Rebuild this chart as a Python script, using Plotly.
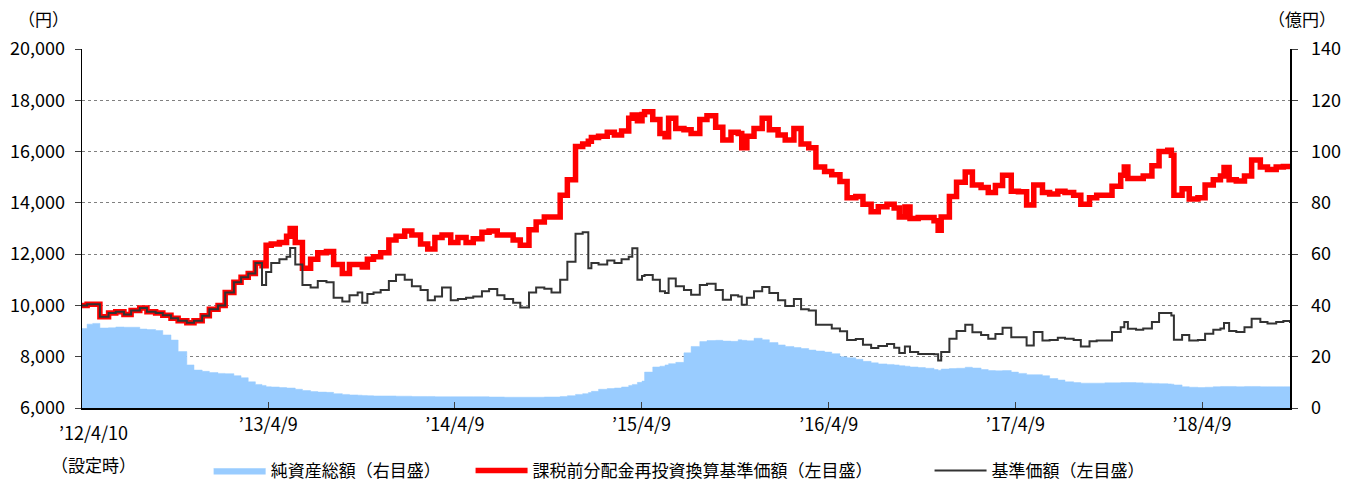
import plotly.graph_objects as go

dates = [
    "2012-04-10", "2012-04-20", "2012-05-01", "2012-05-15", "2012-06-01", "2012-06-15",
    "2012-07-01", "2012-07-15", "2012-08-01", "2012-08-15", "2012-09-01", "2012-09-15",
    "2012-10-01", "2012-10-15", "2012-11-01", "2012-11-15", "2012-12-01", "2012-12-15",
    "2013-01-01", "2013-01-15", "2013-02-01", "2013-02-15", "2013-03-01", "2013-03-15",
    "2013-03-28", "2013-04-05", "2013-04-15", "2013-05-01", "2013-05-15", "2013-05-22",
    "2013-06-01", "2013-06-15", "2013-07-01", "2013-07-15", "2013-08-01", "2013-08-15",
    "2013-09-01", "2013-09-15", "2013-10-01", "2013-10-10", "2013-10-20", "2013-11-01",
    "2013-11-15", "2013-12-01", "2013-12-15", "2014-01-01", "2014-01-15", "2014-02-01",
    "2014-02-15", "2014-03-01", "2014-03-15", "2014-04-01", "2014-04-15", "2014-05-01",
    "2014-05-15", "2014-06-01", "2014-06-15", "2014-07-01", "2014-07-15", "2014-08-01",
    "2014-08-15", "2014-09-01", "2014-09-15", "2014-10-01", "2014-10-15", "2014-11-01",
    "2014-11-15", "2014-12-01", "2014-12-15", "2014-12-26", "2015-01-01", "2015-01-15",
    "2015-02-01", "2015-02-15", "2015-03-01", "2015-03-15", "2015-03-22", "2015-04-01",
    "2015-04-10", "2015-04-15", "2015-05-01", "2015-05-15", "2015-05-25", "2015-06-01",
    "2015-06-15", "2015-07-01", "2015-07-15", "2015-08-01", "2015-08-15", "2015-09-01",
    "2015-09-15", "2015-10-01", "2015-10-15", "2015-10-22", "2015-11-01", "2015-11-15",
    "2015-12-01", "2015-12-15", "2016-01-01", "2016-01-15", "2016-02-01", "2016-02-15",
    "2016-03-01", "2016-03-15", "2016-04-01", "2016-04-15", "2016-05-01", "2016-05-15",
    "2016-06-01", "2016-06-15", "2016-07-01", "2016-07-15", "2016-08-01", "2016-08-15",
    "2016-08-25", "2016-09-05", "2016-09-15", "2016-10-01", "2016-10-15", "2016-11-01",
    "2016-11-09", "2016-11-15", "2016-12-01", "2016-12-15", "2017-01-01", "2017-01-15",
    "2017-02-01", "2017-02-15", "2017-03-01", "2017-03-15", "2017-04-01", "2017-04-15",
    "2017-05-01", "2017-05-15", "2017-06-01", "2017-06-15", "2017-07-01", "2017-07-15",
    "2017-08-01", "2017-08-15", "2017-09-01", "2017-09-15", "2017-10-01", "2017-10-15",
    "2017-11-01", "2017-11-08", "2017-11-15", "2017-12-01", "2017-12-15", "2018-01-01",
    "2018-01-15", "2018-02-01", "2018-02-08", "2018-02-13", "2018-03-01", "2018-03-15",
    "2018-04-01", "2018-04-15", "2018-05-01", "2018-05-15", "2018-05-22", "2018-06-01",
    "2018-06-15", "2018-07-01", "2018-07-15", "2018-08-01", "2018-08-15", "2018-09-01",
    "2018-09-15", "2018-09-28",
]

# 課税前分配金再投資換算基準価額 (円, left axis)
reinvested_nav = [
    10000, 10050, 10050, 9560, 9700, 9750,
    9650, 9800, 9900, 9750, 9700, 9620,
    9500, 9400, 9320, 9400, 9600, 9850,
    10000, 10500, 10900, 11100, 11250, 11650,
    11550, 12350, 12400, 12450, 12700, 13000,
    12450, 11450, 11800, 12050, 12100, 11600,
    11250, 11600, 11600, 11500, 11800, 11900,
    12050, 12550, 12700, 12900, 12750, 12400,
    12200, 12650, 12750, 12450, 12650, 12450,
    12600, 12850, 12900, 12750, 12750, 12550,
    12350, 12950, 13250, 13450, 13450, 14300,
    14900, 16200, 16300, 16400, 16550, 16600,
    16750, 16650, 16800, 17300, 17430, 17200,
    17450, 17550, 17250, 16700, 16580, 17300,
    16900, 16850, 16700, 17250, 17400, 16950,
    16450, 16750, 16700, 16150, 16600, 16900,
    17300, 16850, 16650, 16450, 16900, 16300,
    16150, 15400, 15220, 15100, 14830, 14200,
    14250, 13950, 13650, 13850, 13950, 13800,
    13450, 13840, 13390, 13430, 13430, 13300,
    12930, 13450, 14250, 14800, 15200, 14700,
    14600, 14400, 14680, 15080, 14450, 14430,
    13920, 14700, 14400, 14350, 14450, 14400,
    14300, 13950, 14200, 14300, 14300, 14650,
    15080, 15400, 14950, 14950, 15050, 15450,
    16000, 16050, 15860, 14300, 14550, 14150,
    14200, 14700, 14900, 15050, 15380, 14900,
    14850, 15050, 15670, 15400, 15300, 15400,
    15420, 15340,
]

# 基準価額 (円, left axis)
nav = [
    10000, 10050, 10050, 9560, 9700, 9750,
    9650, 9800, 9900, 9750, 9700, 9620,
    9500, 9400, 9320, 9400, 9600, 9850,
    10000, 10500, 10900, 11100, 11250, 11650,
    10800, 11300, 11650, 11800, 11900, 12240,
    11600, 10800, 10700, 10950, 10900, 10300,
    10150, 10400, 10500, 10100, 10450, 10500,
    10600, 10950, 11200, 11000, 10750, 10600,
    10200, 10350, 10700, 10200, 10250, 10300,
    10350, 10550, 10640, 10400, 10250, 10100,
    9920, 10500, 10700, 10650, 10500, 11000,
    11700, 12800, 12850, 11450, 11650, 11600,
    11750, 11650, 11800, 11900, 12230, 11000,
    11150, 11190, 11000, 10550, 10480, 11050,
    10750, 10600, 10420, 10800, 10850, 10600,
    10220, 10400, 10350, 10030, 10300, 10550,
    10720, 10480, 10200, 9980, 10250, 9850,
    9800, 9250, 9250, 9100, 8990, 8650,
    8690, 8470, 8340, 8420, 8500, 8350,
    8140, 8400, 8180, 8110, 8110, 8100,
    7850, 8180, 8700, 9000, 9250, 8950,
    8850, 8700, 8890, 9130, 8760, 8760,
    8440, 8960, 8630, 8650, 8740, 8700,
    8650, 8400, 8600, 8630, 8630, 8960,
    9150, 9350, 9090, 9050, 9100, 9350,
    9700, 9700, 9610, 8660, 8850, 8630,
    8650, 8900, 9050, 9100, 9310, 9000,
    8960, 9150, 9480, 9350, 9300, 9350,
    9390, 9310,
]

# 純資産総額 (億円, right axis)
net_assets = [
    31.0, 32.7, 33.0, 31.2, 31.3, 31.6,
    31.5, 31.5, 30.8, 30.6, 30.2, 28.5,
    26.5, 22.0, 16.8, 14.8, 14.3, 13.8,
    13.5, 13.4, 12.6, 11.8, 10.2, 9.2,
    8.8, 8.3, 8.2, 8.0, 7.8, 7.8,
    7.3, 6.8, 6.4, 6.2, 6.1, 5.6,
    5.3, 5.1, 5.0, 4.9, 4.8, 4.7,
    4.7, 4.7, 4.6, 4.6, 4.5, 4.5,
    4.5, 4.4, 4.4, 4.4, 4.4, 4.4,
    4.4, 4.4, 4.3, 4.3, 4.2, 4.2,
    4.2, 4.2, 4.2, 4.3, 4.3, 4.5,
    4.8, 5.3, 5.6, 6.0, 6.5, 7.3,
    7.6, 7.8, 8.2, 8.8, 9.2, 10.0,
    10.5, 14.0, 16.0, 16.3, 16.8, 17.3,
    17.8, 21.5, 24.0, 25.9, 26.3, 26.4,
    26.1, 26.0, 26.6, 26.4, 26.2, 27.2,
    26.6, 25.5, 24.6, 24.0, 23.6, 23.2,
    22.6, 22.2, 21.8, 21.2, 20.0, 19.6,
    19.0, 18.2, 17.6, 17.2, 17.0, 16.8,
    16.5, 16.3, 16.0, 15.8, 15.5, 15.0,
    14.7, 15.2, 15.4, 15.5, 15.9, 15.6,
    15.0, 14.6, 14.5, 14.6, 14.0, 13.5,
    13.0, 13.0, 12.6, 11.5, 10.9, 10.2,
    9.9, 9.7, 9.7, 9.7, 9.8, 9.8,
    9.9, 9.9, 9.9, 9.8, 9.7, 9.6,
    9.5, 9.4, 9.3, 9.0, 8.3, 8.1,
    8.0, 8.1, 8.3, 8.4, 8.4, 8.4,
    8.3, 8.4, 8.4, 8.3, 8.3, 8.3,
    8.3, 8.3,
]

tick_dates = ["2013-04-09", "2014-04-09", "2015-04-09", "2016-04-09", "2017-04-09", "2018-04-09"]
tick_labels = ["’13/4/9", "’14/4/9", "’15/4/9", "’16/4/9", "’17/4/9", "’18/4/9"]

FONT = "Noto Sans CJK JP, Noto Sans, sans-serif"

fig = go.Figure()

fig.add_trace(go.Scatter(
    x=dates, y=net_assets, name="純資産総額（右目盛）",
    mode="lines", line=dict(shape="hv", width=0.5, color="#99CCFF"),
    fill="tozeroy", fillcolor="#99CCFF", yaxis="y", legend="legend",
    hoverinfo="skip",
))
fig.add_trace(go.Scatter(
    x=dates, y=reinvested_nav, name="課税前分配金再投資換算基準価額（左目盛）",
    mode="lines", line=dict(shape="hv", width=5.5, color="#FF0000"),
    yaxis="y2", legend="legend2", hoverinfo="skip",
))
fig.add_trace(go.Scatter(
    x=dates, y=nav, name="基準価額（左目盛）",
    mode="lines", line=dict(shape="hv", width=2, color="#333333"),
    yaxis="y2", legend="legend3", hoverinfo="skip",
))

leg_common = dict(orientation="h", xref="container", yref="container", yanchor="middle",
                  y=0.027, bgcolor="rgba(0,0,0,0)", font=dict(size=17, color="#000000", family=FONT),
                  itemwidth=52, itemclick=False, itemdoubleclick=False)

fig.update_layout(
    width=1346, height=484,
    margin=dict(l=82, r=56, t=49, b=76, autoexpand=False),
    paper_bgcolor="white", plot_bgcolor="white",
    font=dict(family=FONT, size=17, color="#000000"),
    showlegend=True,
    legend=dict(x=0.155, xanchor="left", **leg_common),
    legend2=dict(x=0.3496, xanchor="left", **leg_common),
    legend3=dict(x=0.6906, xanchor="left", **leg_common),
    xaxis=dict(
        type="date", range=["2012-04-10", "2018-09-28"],
        tickvals=tick_dates, ticktext=tick_labels,
        ticks="inside", ticklen=6, tickcolor="#404040",
        showline=True, linecolor="#000000", linewidth=1.5,
        showgrid=False, zeroline=False, automargin=False,
        tickfont=dict(size=18, family=FONT),
    ),
    yaxis=dict(
        side="right", range=[0, 140], dtick=20, tick0=0,
        ticks="outside", ticklen=6, tickcolor="#404040",
        showline=True, linecolor="#000000", linewidth=1.5,
        showgrid=True, gridcolor="#808080", griddash="dot", gridwidth=1,
        zeroline=False, ticklabelstandoff=10, automargin=False,
        tickfont=dict(size=18, family=FONT),
    ),
    yaxis2=dict(
        overlaying="y", side="left", range=[6000, 20000], dtick=2000, tick0=6000,
        tickformat=",d",
        ticks="outside", ticklen=6, tickcolor="#404040",
        showline=True, linecolor="#000000", linewidth=1.5,
        showgrid=False, zeroline=False, ticklabelstandoff=6, automargin=False,
        tickfont=dict(size=18, family=FONT),
    ),
    annotations=[
        dict(text="（円）", xref="paper", yref="paper", x=-0.032, y=1.085,
             xanchor="center", yanchor="middle", showarrow=False, font=dict(size=17)),
        dict(text="（億円）", xref="paper", yref="paper", x=1.010, y=1.085,
             xanchor="center", yanchor="middle", showarrow=False, font=dict(size=17)),
        dict(text="’12/4/10", xref="paper", yref="paper", x=0.0095, y=-0.067,
             xanchor="center", yanchor="middle", showarrow=False, font=dict(size=18)),
        dict(text="（設定時）", xref="paper", yref="paper", x=0.0095, y=-0.158,
             xanchor="center", yanchor="middle", showarrow=False, font=dict(size=17)),
    ],
)

fig.write_html(
    "out.html",
    config={"displayModeBar": False, "staticPlot": True},
    post_script="document.body.style.margin='0';document.body.style.overflow='hidden';",
)
